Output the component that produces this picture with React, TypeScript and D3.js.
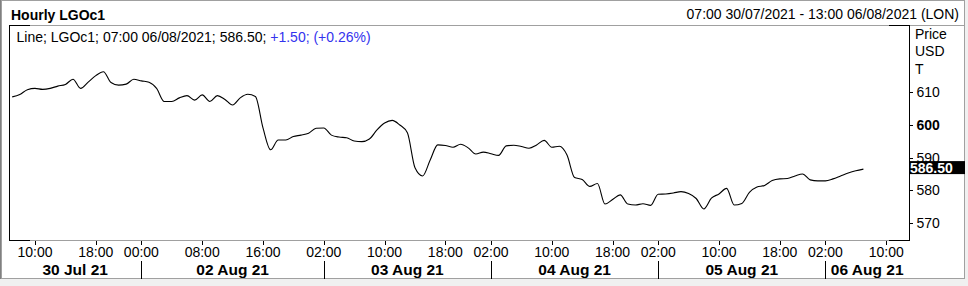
import React from "react";
import * as d3 from "d3";

// ---- data ----
const title = "Hourly LGOc1";
const rangeText = "07:00 30/07/2021 - 13:00 06/08/2021 (LON)";
const legendMain = "Line; LGOc1; 07:00 06/08/2021; 586.50; ";
const legendChange = "+1.50; (+0.26%)";
const axisTitle = ["Price", "USD", "T"];

// trading sessions (hourly bars), weekend collapsed
const sessionDays = ["2021-07-30", "2021-08-01", "2021-08-02", "2021-08-03", "2021-08-04", "2021-08-05", "2021-08-06"];
const sessionStart = [7, 23, 0, 1, 1, 1, 1];
const sessionEnd = [22, 23, 22, 22, 22, 22, 13];

const values = [
  608.6, 609.3, 610.8, 611.2, 610.9, 611.2, 611.9, 612.4, 614.0, 611.2,
  613.1, 615.1, 616.3, 613.0, 612.2, 612.5, 614.0, 613.5, 613.1, 611.2,
  607.2, 607.2, 608.3, 609.0, 607.6, 609.2, 607.2, 609.0, 607.8, 606.1,
  608.3, 609.4, 608.7, 599.1, 592.4, 595.4, 595.4, 596.5, 596.9, 597.5,
  599.0, 599.1, 596.9, 596.3, 596.1, 595.1, 594.9, 595.7, 598.5, 600.6,
  601.4, 600.0, 597.6, 586.9, 584.4, 589.3, 593.9, 593.7, 593.2, 594.1,
  593.0, 591.1, 591.7, 591.2, 590.7, 593.6, 593.8, 593.4, 592.9, 593.9,
  595.3, 593.2, 593.5, 590.8, 583.9, 583.3, 581.2, 582.1, 575.8, 577.2,
  578.6, 575.8, 575.5, 575.9, 575.4, 578.8, 578.9, 579.2, 579.6, 579.0,
  577.5, 574.3, 577.6, 578.9, 580.6, 575.5, 576.0, 579.4, 581.0, 581.5,
  583.0, 583.5, 583.6, 584.4, 585.0, 583.2, 582.9, 582.9, 583.5, 584.4,
  585.3, 586.0, 586.5,
];
const lastValue = 586.5;

const yTicks = [570, 580, 590, 600, 610];
const yBoldTick = 600;

const timeTickDays = ["2021-07-30", "2021-07-30", "2021-08-02", "2021-08-02", "2021-08-02", "2021-08-03", "2021-08-03", "2021-08-03", "2021-08-04", "2021-08-04", "2021-08-04", "2021-08-05", "2021-08-05", "2021-08-05", "2021-08-06", "2021-08-06"];
const timeTickHours = [10, 18, 0, 8, 16, 2, 10, 18, 2, 10, 18, 2, 10, 18, 2, 10];

const dateLabels = ["30 Jul 21", "02 Aug 21", "03 Aug 21", "04 Aug 21", "05 Aug 21", "06 Aug 21"];
const dateLabelDays = ["2021-07-30", "2021-08-02", "2021-08-03", "2021-08-04", "2021-08-05", "2021-08-06"];

// ---- timeline ----
const timeline: { day: string; hour: number }[] = [];
sessionDays.forEach((d, k) => {
  for (let h = sessionStart[k]; h <= sessionEnd[k]; h++) timeline.push({ day: d, hour: h });
});
const indexOf = (day: string, hour: number) => timeline.findIndex((t) => t.day === day && t.hour === hour);

const W = 968, H = 286;
const L = 9, R = 909, T = 25, B = 240;
const FONT = "'Liberation Sans', Arial, sans-serif";

export default function App() {
  const x = d3.scaleLinear().domain([-0.42, timeline.length - 1]).range([L, R]);
  const y = d3.scaleLinear().domain([564.8, 630.6]).range([B, T]);

  const line = d3
    .line<number>()
    .x((_, i) => x(i))
    .y((v) => y(v))
    .curve(d3.curveMonotoneX);

  const ticks = timeTickDays.map((d, k) => ({ day: d, x: x(indexOf(d, timeTickHours[k])), label: d3.format("02d")(timeTickHours[k]) + ":00" }));
  // separators at first tick of each new day
  const seps: number[] = [];
  dateLabelDays.forEach((d, k) => {
    if (k === 0) return;
    const t = ticks.find((tt) => tt.day === d);
    if (t) seps.push(t.x);
  });
  const edges = [L, ...seps, R];

  const yl = y(lastValue);

  return (
    <svg width={W} height={H} style={{ position: "absolute", left: 0, top: 0 }} fontFamily={FONT}>
      <rect x={0} y={0} width={W} height={H} fill="#f0f0f0" />
      <rect x={1.5} y={0.5} width={963} height={278} fill="#ffffff" stroke="#a0a0a0" />
      <line x1={0} x2={0} y1={0} y2={279} stroke="#808080" strokeWidth={2} />

      <text x={11} y={19.5} fontSize={14} fontWeight="bold" fill="#000">{title}</text>
      <text x={959} y={18.5} fontSize={14} textAnchor="end" fill="#000">{rangeText}</text>

      {/* plot frame */}
      <line x1={L} x2={964} y1={T + 0.5} y2={T + 0.5} stroke="#a0a0a0" />
      <line x1={L} x2={R} y1={B + 0.5} y2={B + 0.5} stroke="#a0a0a0" />
      <line x1={L} x2={L + 21} y1={T + 0.5} y2={T + 0.5} stroke="#000" />
      <line x1={R - 20} x2={R} y1={T + 0.5} y2={T + 0.5} stroke="#000" />
      <line x1={L} x2={L + 21} y1={B + 0.5} y2={B + 0.5} stroke="#000" />
      <line x1={R - 20} x2={R} y1={B + 0.5} y2={B + 0.5} stroke="#000" />
      <line x1={L + 0.5} x2={L + 0.5} y1={T} y2={B + 1} stroke="#000" />
      <line x1={R + 0.5} x2={R + 0.5} y1={T} y2={B + 1} stroke="#000" />

      <text x={16.5} y={41.5} fontSize={14} fill="#000">
        <tspan>{legendMain}</tspan>
        <tspan fill="#3333ee">{legendChange}</tspan>
      </text>

      {/* line */}
      <path d={line(values) || ""} fill="none" stroke="#000" strokeWidth={1.1} />

      {/* y axis */}
      {axisTitle.map((t, k) => (
        <text key={t} x={915} y={38.5 + k * 17.5} fontSize={14} fill="#000">{t}</text>
      ))}
      {yTicks.map((v) => (
        <g key={v}>
          <line x1={R} x2={R + 4} y1={Math.round(y(v)) + 0.5} y2={Math.round(y(v)) + 0.5} stroke="#000" />
          <text x={916.5} y={y(v) + 5} fontSize={14} fontWeight={v === yBoldTick ? "bold" : "normal"} fill="#000">{v}</text>
        </g>
      ))}
      <rect x={R} y={yl - 8} width={56} height={13} fill="#000" />
      <text x={910} y={yl + 3.5} fontSize={14} fontWeight="bold" fill="#fff">{lastValue.toFixed(2)}</text>

      {/* x axis */}
      {ticks.map((t, k) => (
        <g key={k}>
          <line x1={Math.round(t.x) + 0.5} x2={Math.round(t.x) + 0.5} y1={B + 1} y2={B + 5} stroke="#000" />
          <text x={t.x} y={257} fontSize={14} textAnchor="middle" fill="#000">{t.label}</text>
        </g>
      ))}
      {seps.map((s, k) => (
        <line key={k} x1={Math.round(s) + 0.5} x2={Math.round(s) + 0.5} y1={261} y2={279} stroke="#000" />
      ))}
      {dateLabels.map((d, k) => (
        <text key={d} x={(edges[k] + edges[k + 1]) / 2} y={275} fontSize={15.5} fontWeight="bold" textAnchor="middle" fill="#000">{d}</text>
      ))}
    </svg>
  );
}
